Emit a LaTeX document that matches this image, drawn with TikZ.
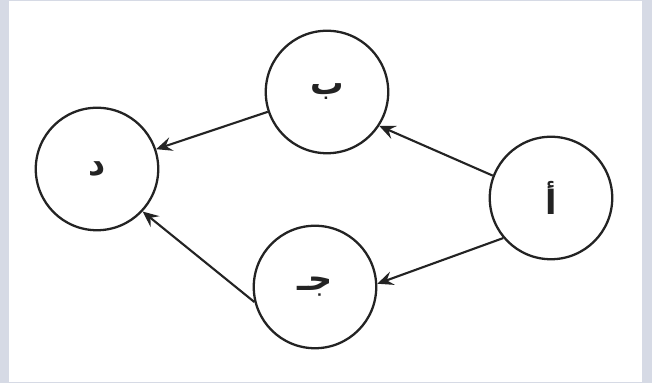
\documentclass[tikz,border=0pt]{standalone}
\usepackage{fontspec}
\usepackage{xcolor}
\usepackage{tikz}
\usetikzlibrary{arrows.meta}
\TeXXeTstate=1
\newfontfamily\arabicfont[Script=Arabic]{DejaVu Sans}
\definecolor{framegray}{RGB}{214,218,229}
\definecolor{inkgray}{RGB}{35,35,35}

\begin{document}
\begin{tikzpicture}[
  >={Stealth[length=3.2mm, width=2.8mm, inset=1.2mm]},
  font=\arabicfont\bfseries\fontsize{19}{22}\selectfont,
  state/.style={circle, draw=inkgray, line width=1.3pt, minimum size=24.5mm, inner sep=0pt, text=inkgray},
  link/.style={->, line width=1.2pt, draw=inkgray, fill=inkgray},
]

% Scan frame
\fill[framegray] (0,0) rectangle (13.04,7.66);
\fill[white] (0.18,0.02) rectangle (12.84,7.64);
\useasboundingbox (0,0) rectangle (13.04,7.66);

% The four circles
\node[state] (dal)  at (1.94,4.28)  {\beginR د\endR};
\node[state] (ba)   at (6.54,5.82)  {\beginR ب\endR};
\node[state] (alef) at (11.02,3.70) {\beginR أ\endR};
\node[state] (jim)  at (6.30,1.92)  {\beginR جـ\endR};

% Arrows
\draw[link] (ba) -- (dal);
\draw[link] (alef.159) -- (ba.-33);
\draw[link] (alef.220) -- (jim.3);
\draw[link] (jim.194) -- (dal.-43);

\end{tikzpicture}
\end{document}
